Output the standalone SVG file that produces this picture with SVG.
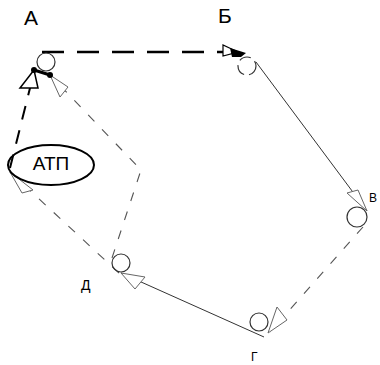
<svg xmlns="http://www.w3.org/2000/svg" width="380" height="365" viewBox="0 0 380 365">
<style>
.lbl{font-family:"Liberation Sans",Arial,sans-serif;fill:#000}
.node{fill:none;stroke:#333;stroke-width:1.2}
.solid{fill:none;stroke:#333;stroke-width:1}
.dash{fill:none;stroke:#555;stroke-width:1.1;stroke-dasharray:9 11}
.dashbold{fill:none;stroke:#000;stroke-width:2;stroke-dasharray:14 11}
.dashthick{fill:none;stroke:#000;stroke-width:2.5;stroke-dasharray:22 13}
.head{fill:#fff;stroke:#666;stroke-width:1}
</style>
<rect width="380" height="365" fill="#fff"/>
<g id="connectors">
  <line class="dashthick" x1="42" y1="52" x2="224" y2="52"/>
  <polygon points="223,45 223,56 238,52" fill="#fff" stroke="#000" stroke-width="1.2"/>
  <polygon points="230,48 246,53 241,57 232,57" fill="#000"/>
  <line class="solid" x1="256" y1="62" x2="367" y2="211"/>
  <polygon class="head" points="367,211 347,193 358,190"/>
  <line class="dash" x1="363" y1="227" x2="270" y2="332"/>
  <polygon class="head" points="268,333 277,307 287,320"/>
  <line class="solid" x1="264" y1="337" x2="121" y2="273"/>
  <polygon class="head" points="121,273 145,277 135,289"/>
  <polyline class="dash" points="112,258 141,170 50,75"/>
  <polygon class="head" points="50,75 60,97 68,87"/>
  <line class="dash" x1="119" y1="273" x2="10" y2="172"/>
  <polygon class="head" points="10,172 22,193 33,190"/>
  <line class="dashbold" x1="10" y1="168" x2="34" y2="72"/>
  <polygon points="34,70 20,88 38,88" fill="#fff" stroke="#000" stroke-width="1.5"/>
  <line x1="34" y1="70" x2="50" y2="75" stroke="#000" stroke-width="3"/>
  <circle cx="34" cy="70" r="3" fill="#000"/>
  <circle cx="50" cy="75" r="3" fill="#000"/>
</g>
<g id="node-A">
  <circle class="node" cx="46" cy="62" r="9" stroke="#000" stroke-width="1.8"/>
  <text class="lbl" x="24" y="25" font-size="21">А</text>
</g>
<g id="node-B">
  <circle class="node" cx="247" cy="66" r="9" stroke-dasharray="12 5"/>
  <text class="lbl" x="218" y="23" font-size="21">Б</text>
</g>
<g id="node-V">
  <circle class="node" cx="357" cy="217" r="10"/>
  <text class="lbl" x="369" y="202" font-size="12">В</text>
</g>
<g id="node-G">
  <circle class="node" cx="259" cy="322" r="9"/>
  <text class="lbl" x="251" y="361" font-size="12">Г</text>
</g>
<g id="node-D">
  <circle class="node" cx="121" cy="263" r="9"/>
  <text class="lbl" x="81" y="290" font-size="14">Д</text>
</g>
<g id="node-ATP">
  <ellipse cx="51" cy="165" rx="43" ry="20" fill="none" stroke="#000" stroke-width="2"/>
  <text class="lbl" x="51" y="170" font-size="19" text-anchor="middle">АТП</text>
</g>
</svg>
